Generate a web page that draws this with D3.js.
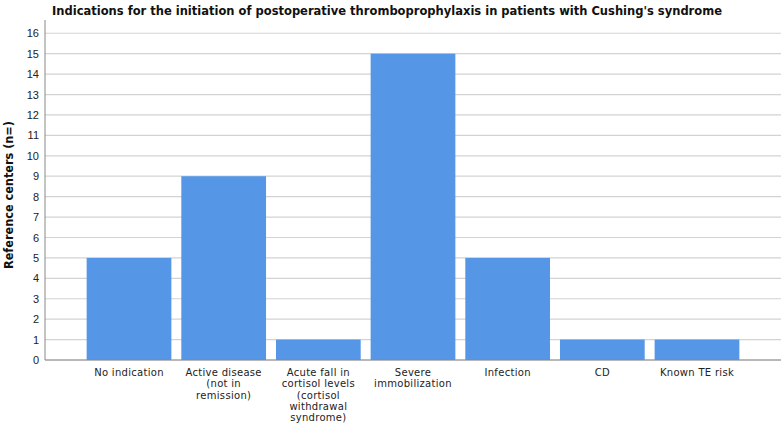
<!DOCTYPE html>
<html><head><meta charset="utf-8">
<script src="https://cdn.jsdelivr.net/npm/d3@7"></script>
<style>body{margin:0;background:#fff}</style>
</head><body>
<svg id="c" width="783" height="423"></svg>
<script>
const categories = [
  ["No indication"],
  ["Active disease","(not in","remission)"],
  ["Acute fall in","cortisol levels","(cortisol","withdrawal","syndrome)"],
  ["Severe","immobilization"],
  ["Infection"],
  ["CD"],
  ["Known TE risk"]
];
const values = [5, 9, 1, 15, 5, 1, 1];
const yTicks = d3.range(0, 17);
const title = "Indications for the initiation of postoperative thromboprophylaxis in patients with Cushing's syndrome";
const yTitle = "Reference centers (n=)";

(function(){
const svg = d3.select("#c");
const mLeft = 45, mRight = 781, mTop = 20, mBottom = 360;
const x = d3.scaleBand().domain(d3.range(categories.length)).range([mLeft, mRight]).paddingInner(0.105).paddingOuter(0.44);
const y = d3.scaleLinear().domain([0, 16.65]).range([mBottom, mTop]);

svg.append("g").selectAll("line").data(yTicks).join("line")
  .attr("x1", mLeft).attr("x2", mRight)
  .attr("y1", d => y(d)).attr("y2", d => y(d))
  .attr("stroke", "#d3d3d3").attr("stroke-width", 1.2);

svg.append("g").selectAll("rect").data(values).join("rect")
  .attr("x", (d,i) => x(i)).attr("width", x.bandwidth())
  .attr("y", d => y(d)).attr("height", d => y(0) - y(d))
  .attr("fill", "#5596e6");

const ya = svg.append("g").attr("transform", `translate(${mLeft},0)`)
  .call(d3.axisLeft(y).tickValues(yTicks).tickSize(0).tickPadding(6).tickFormat(d3.format("d")));
ya.select(".domain").attr("stroke", "#888").attr("d", `M0,${mTop}V${mBottom}`);
ya.selectAll("text").attr("font-family", "Liberation Sans, Arial, sans-serif").attr("font-size", 11).attr("fill", "#222");

svg.append("line").attr("x1", mLeft).attr("x2", mRight).attr("y1", mBottom).attr("y2", mBottom)
  .attr("stroke", "#888").attr("stroke-width", 1);

const xl = svg.append("g").selectAll("text").data(categories).join("text")
  .attr("x", (d,i) => x(i) + x.bandwidth()/2)
  .attr("y", 376)
  .attr("text-anchor", "middle")
  .attr("font-family", "DejaVu Sans, sans-serif").attr("font-size", 10).attr("letter-spacing", 0.3).attr("fill", "#222");
xl.each(function(d){
  const t = d3.select(this);
  d.forEach((line, k) => t.append("tspan").attr("x", t.attr("x")).attr("dy", k === 0 ? 0 : 11.3).text(line));
});

svg.append("text").attr("x", 387).attr("y", 15).attr("text-anchor", "middle")
  .attr("font-family", "DejaVu Sans, sans-serif").attr("font-weight", "bold").attr("font-size", 12.5)
  .attr("textLength", 670).attr("lengthAdjust", "spacingAndGlyphs")
  .attr("fill", "#111").text(title);

svg.append("text").attr("transform", `translate(13,195) rotate(-90)`)
  .attr("text-anchor", "middle")
  .attr("font-family", "DejaVu Sans, sans-serif").attr("font-weight", "bold").attr("font-size", 12.5)
  .attr("textLength", 148).attr("lengthAdjust", "spacingAndGlyphs")
  .attr("fill", "#111").text(yTitle);
})();
</script>
</body></html>
